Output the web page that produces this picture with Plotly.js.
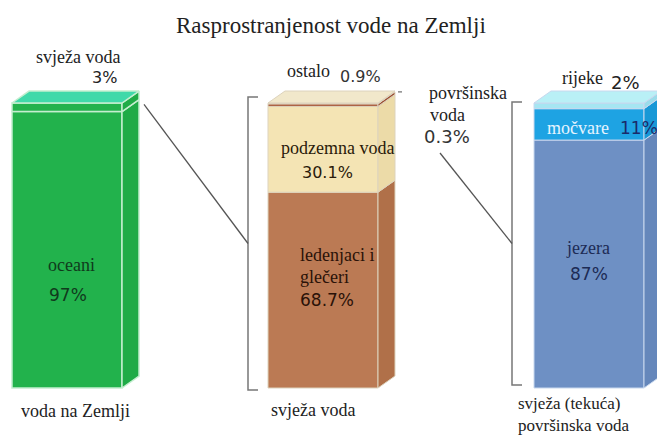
<!DOCTYPE html>
<html><head><meta charset="utf-8">
<script src="https://cdn.plot.ly/plotly-3.0.1.min.js"></script>
<style>html,body{margin:0;padding:0;background:#fff}#chart{width:657px;height:437px}</style>
</head><body><div id="chart"></div>
<script>
// ---------- data ----------
const chartTitle = 'Rasprostranjenost vode na Zemlji';
const barNames = ['voda na Zemlji', 'svježa voda', 'svježa (tekuća)', 'površinska voda'];
const earthLabels = ['oceani', 'svježa voda'];
const earthValues = [97, 3];
const freshLabels = ['ledenjaci i', 'glečeri', 'podzemna voda', 'ostalo', 'površinska', 'voda'];
const freshValues = [68.7, 30.1, 0.9, 0.3];
const surfaceLabels = ['jezera', 'močvare', 'rijeke'];
const surfaceValues = [87, 11, 2];

// ---------- styles / geometry ----------
const W = 657, H = 437;
const Y_MIN = -17.19, Y_MAX = 136.14;
const barX = [67, 323, 589];
const barW = 110;
const depthX = 17, depthY = 4.2;
const earthFront = ['#22b24c', '#22b24c'];
const earthSide = ['#1fab47', '#1fab47'];
const freshFront = ['#bb7a54', '#f4e4b4', '#a9583a', '#e4ddd0'];
const freshSide = ['#b07049', '#ecdba8', '#9c5034', '#dcd4c4'];
const surfFront = ['#6e90c4', '#1ea3e3', '#a6e6f2'];
const surfSide = ['#6587bb', '#1898d6', '#9adcea'];
const serif = 'Liberation Serif, Times New Roman, serif';
const sans = 'DejaVu Sans, Verdana, sans-serif';

const traces = [];
function addStack(ix, values, front, side, top, lineColor, lineW) {
  let base = 0;
  const xl = barX[ix] - barW / 2, xr = barX[ix] + barW / 2;
  values.forEach((v, i) => {
    traces.push({type: 'bar', x: [barX[ix]], y: [v], base: [base], width: [barW],
      marker: {color: front[i], line: {color: lineColor, width: lineW}},
      hoverinfo: 'skip', showlegend: false});
    traces.push({type: 'scatter', mode: 'lines', fill: 'toself', fillcolor: side[i],
      x: [xr, xr + depthX, xr + depthX, xr, xr],
      y: [base, base + depthY, base + v + depthY, base + v, base],
      line: {color: lineColor, width: lineW}, hoverinfo: 'skip', showlegend: false});
    base += v;
  });
  traces.push({type: 'scatter', mode: 'lines', fill: 'toself', fillcolor: top,
    x: [xl, xr, xr + depthX, xl + depthX, xl],
    y: [base, base, base + depthY, base + depthY, base],
    line: {color: lineColor, width: lineW}, hoverinfo: 'skip', showlegend: false});
  return base;
}
const earthTop = addStack(0, earthValues, earthFront, earthSide, '#3fd9a9', '#c4eecf', 1.5);
const freshTop = addStack(1, freshValues, freshFront, freshSide, '#f1e8cb', '#ddd3bd', 1);
const surfTop = addStack(2, surfaceValues, surfFront, surfSide, '#b9f0f6', '#c8d8ee', 1);

// ---------- annotations ----------
const anns = [];
function ann(text, px, py, size, font, color, xanchor, yanchor) {
  anns.push({text: text, xref: 'paper', yref: 'paper', x: px / W, y: 1 - py / H,
    xanchor: xanchor || 'center', yanchor: yanchor || 'middle', showarrow: false,
    align: 'left', font: {family: font, size: size, color: color}});
}
const pct = v => v + '%';
ann(chartTitle, 331, 25, 23, serif, '#222');
// earth bar
ann(earthLabels[1], 78, 57, 18, serif, '#222');
ann(pct(earthValues[1]), 104, 77, 16, sans, '#222');
ann(earthLabels[0], 71, 265, 18, serif, '#103a1c');
ann(pct(earthValues[0]), 68, 295, 17, sans, '#103a1c');
ann(barNames[0], 75, 411, 18, serif, '#222');
// fresh bar
ann(freshLabels[3], 308, 71, 18, serif, '#222');
ann(pct(freshValues[2]), 360, 76, 16, sans, '#333');
ann(freshLabels[2], 337, 148, 18, serif, '#2a1a0a');
ann(pct(freshValues[1]), 327, 173, 16, sans, '#2a1a0a');
ann(freshLabels[0], 298, 255, 18, serif, '#2a1208', 'left');
ann(freshLabels[1], 298, 277, 18, serif, '#2a1208', 'left');
ann(pct(freshValues[0]), 298, 300, 17, sans, '#2a1208', 'left');
ann(barNames[1], 313, 410, 18, serif, '#222');
ann(freshLabels[4], 427, 93, 18, serif, '#222', 'left');
ann(freshLabels[5], 428, 115, 18, serif, '#222', 'left');
ann(pct(freshValues[3]), 422, 136, 18, sans, '#333', 'left');
// surface bar
ann(surfaceLabels[2], 582, 78, 18, serif, '#222');
ann(pct(surfaceValues[2]), 625, 83, 18, sans, '#222');
ann(surfaceLabels[1], 578, 128, 18, serif, '#e6f4ff');
ann(pct(surfaceValues[1]), 618, 128, 17, sans, '#1a2a6a', 'left');
ann(surfaceLabels[0], 588, 248, 18, serif, '#1d2b55');
ann(pct(surfaceValues[0]), 589, 274, 17, sans, '#1d2b55');
ann(barNames[2] + '<br>' + barNames[3], 516, 437, 17, serif, '#222', 'left', 'bottom');

// ---------- brackets & connectors ----------
const toUnit = py => Y_MAX - py * (Y_MAX - Y_MIN) / H;
const shapes = [];
function bracket(ix, gap, yBot, yTop) {
  const bx = barX[ix] - barW / 2 - gap;
  shapes.push({type: 'path', xref: 'x', yref: 'y',
    path: `M ${bx + 10} ${yTop} L ${bx} ${yTop} L ${bx} ${yBot} L ${bx + 10} ${yBot}`,
    line: {color: '#777', width: 1.5}});
  return {x: bx, y: (yTop + yBot) / 2};
}
const b1 = bracket(1, 20, toUnit(390), toUnit(97));
const b2 = bracket(2, 22, toUnit(385), toUnit(102));
const l0r = barX[0] + barW / 2 + depthX;
shapes.push({type: 'line', xref: 'x', yref: 'y', x0: l0r + 5, y0: earthTop - 0.5, x1: b1.x, y1: b1.y,
  line: {color: '#555', width: 1.3}});
shapes.push({type: 'line', xref: 'x', yref: 'y', x0: 440, y0: toUnit(153), x1: b2.x, y1: b2.y,
  line: {color: '#555', width: 1.3}});
const l1r = barX[1] + barW / 2 + depthX;
shapes.push({type: 'line', xref: 'x', yref: 'y', x0: l1r + 3, y0: freshTop + depthY - 0.3, x1: l1r + 7, y1: freshTop + depthY - 0.3,
  line: {color: '#777', width: 1.3}});

const layout = {
  width: W, height: H, margin: {l: 0, r: 0, t: 0, b: 0},
  paper_bgcolor: '#ffffff', plot_bgcolor: '#ffffff',
  barmode: 'overlay', showlegend: false,
  xaxis: {range: [0, W], visible: false, fixedrange: true},
  yaxis: {range: [Y_MIN, Y_MAX], visible: false, fixedrange: true},
  annotations: anns, shapes: shapes
};
Plotly.newPlot('chart', traces, layout, {displayModeBar: false, staticPlot: true});
</script></body></html>
